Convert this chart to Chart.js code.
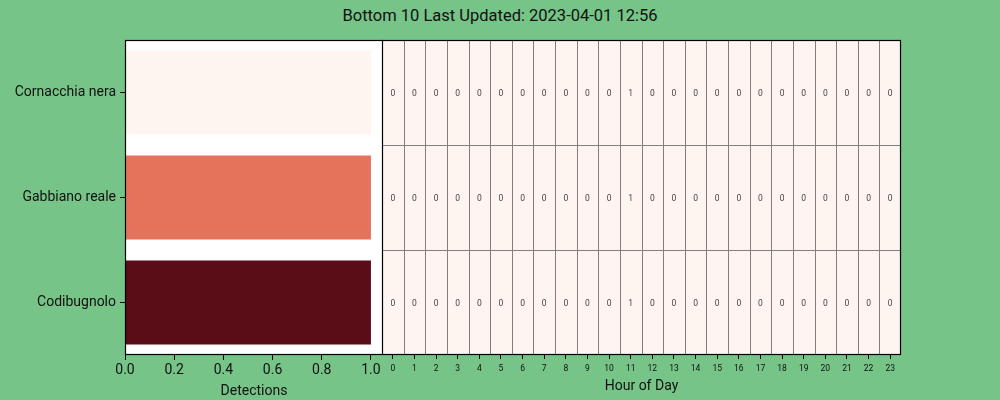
<!DOCTYPE html>
<html>
<head>
<meta charset="utf-8">
<script src="https://cdn.jsdelivr.net/npm/chart.js@4.4.0/dist/chart.umd.min.js"></script>
<style>
  html, body { margin:0; padding:0; background:#76c487; }
  #wrap { position:relative; width:1000px; height:400px; background:#76c487; overflow:hidden; }
  #title { position:absolute; left:0; top:6px; width:1000px; text-align:center; font-family:Roboto, sans-serif; font-size:16.5px; color:#111; }
  #c1 { position:absolute; left:0; top:0; }
  #c2 { position:absolute; left:382px; top:0; }
</style>
</head>
<body>
<div id="wrap">
  <div id="title">Bottom 10 Last Updated: 2023-04-01 12:56</div>
  <canvas id="c1" width="384" height="400" style="width:384px;height:400px"></canvas>
  <canvas id="c2" width="618" height="400" style="width:618px;height:400px"></canvas>
</div>
<script>
const species = ['Cornacchia nera', 'Gabbiano reale', 'Codibugnolo'];
const detections = [1, 1, 1];
const barColors = ['#fff5f0', '#e5735c', '#5a0c17'];
const hours = ['0','1','2','3','4','5','6','7','8','9','10','11','12','13','14','15','16','17','18','19','20','21','22','23'];
const countsCornacchia = [0,0,0,0,0,0,0,0,0,0,0,1,0,0,0,0,0,0,0,0,0,0,0,0];
const countsGabbiano   = [0,0,0,0,0,0,0,0,0,0,0,1,0,0,0,0,0,0,0,0,0,0,0,0];
const countsCodibugnolo= [0,0,0,0,0,0,0,0,0,0,0,1,0,0,0,0,0,0,0,0,0,0,0,0];
const xTicks1 = [0, 0.2, 0.4, 0.6, 0.8, 1.0];

const FONT = 'Roboto, sans-serif';

const boxPlugin = {
  id: 'box',
  beforeDraw(chart, args, opts) {
    const a = chart.chartArea, ctx = chart.ctx;
    ctx.save();
    ctx.fillStyle = opts.bg || '#ffffff';
    ctx.fillRect(a.left, a.top, a.right - a.left, a.bottom - a.top);
    ctx.restore();
  },
  afterDraw(chart) {
    const a = chart.chartArea, ctx = chart.ctx;
    ctx.save();
    ctx.strokeStyle = '#000';
    ctx.lineWidth = 1.2;
    ctx.strokeRect(a.left + 0.5, a.top + 0.5, a.right - a.left - 1, a.bottom - a.top - 1);
    ctx.restore();
  }
};

// Left chart: horizontal bars
new Chart(document.getElementById('c1'), {
  type: 'bar',
  data: {
    labels: species,
    datasets: [{ data: detections, backgroundColor: barColors, borderWidth: 0, barPercentage: 0.8, categoryPercentage: 1.0 }]
  },
  options: {
    indexAxis: 'y',
    responsive: false,
    animation: false,
    devicePixelRatio: 1,
    layout: { padding: { top: 40, right: 1, left: 0, bottom: 0 } },
    plugins: { legend: { display: false }, tooltip: { enabled: false }, box: { bg: '#ffffff' } },
    scales: {
      x: {
        type: 'linear', min: 0, max: 1.049,
        afterBuildTicks(s) { s.ticks = xTicks1.map(v => ({ value: v })); },
        afterFit(s) { s.height = 45; },
        grid: { drawOnChartArea: false, drawTicks: true, tickLength: 5, color: '#000', tickColor: '#000' },
        border: { display: false },
        ticks: { color: '#111', font: { family: FONT, size: 14 }, padding: 2, maxRotation: 0, callback: v => Number(v).toFixed(1) },
        title: { display: true, text: 'Detections', color: '#111', font: { family: FONT, size: 14 }, padding: { top: 0, bottom: 0 } }
      },
      y: {
        afterFit(s) { s.width = 125; },
        grid: { drawOnChartArea: false, drawTicks: true, tickLength: 5, color: '#000', tickColor: '#000', offset: false },
        border: { display: false },
        ticks: { color: '#111', font: { family: FONT, size: 14 }, padding: 4 }
      }
    }
  },
  plugins: [boxPlugin]
});

// Right chart: heatmap as stacked unit bars
const rowCounts = [countsCodibugnolo, countsGabbiano, countsCornacchia]; // bottom to top
const cellColor = '#fff5f0';
const heatDatasets = rowCounts.map((row, i) => ({
  label: 'row' + i,
  data: row.map(() => 1),
  counts: row,
  backgroundColor: cellColor,
  borderWidth: 0,
  barPercentage: 1.0,
  categoryPercentage: 1.0
}));

const heatPlugin = {
  id: 'heat',
  afterDatasetsDraw(chart) {
    const ctx = chart.ctx, a = chart.chartArea;
    const xs = chart.scales.x, ys = chart.scales.y;
    ctx.save();
    ctx.strokeStyle = '#808080';
    ctx.lineWidth = 1;
    for (let i = 1; i < hours.length; i++) {
      const px = Math.round((xs.getPixelForValue(i - 1) + xs.getPixelForValue(i)) / 2) + 0.5;
      ctx.beginPath(); ctx.moveTo(px, a.top); ctx.lineTo(px, a.bottom); ctx.stroke();
    }
    for (let r = 1; r < rowCounts.length; r++) {
      const py = Math.round(ys.getPixelForValue(r)) + 0.5;
      ctx.beginPath(); ctx.moveTo(a.left, py); ctx.lineTo(a.right, py); ctx.stroke();
    }
    ctx.fillStyle = '#444';
    ctx.font = '8.5px ' + FONT;
    ctx.textAlign = 'center';
    ctx.textBaseline = 'middle';
    rowCounts.forEach((row, r) => {
      const py = ys.getPixelForValue(r + 0.5) + 1;
      row.forEach((v, c) => {
        ctx.fillText(String(v), xs.getPixelForValue(c), py);
      });
    });
    ctx.restore();
  }
};

new Chart(document.getElementById('c2'), {
  type: 'bar',
  data: { labels: hours, datasets: heatDatasets },
  options: {
    responsive: false,
    animation: false,
    devicePixelRatio: 1,
    layout: { padding: { top: 40, right: 99, left: 0, bottom: 0 } },
    plugins: { legend: { display: false }, tooltip: { enabled: false }, box: { bg: cellColor } },
    scales: {
      x: {
        stacked: true,
        afterFit(s) { s.height = 45; },
        grid: { drawOnChartArea: false, drawTicks: true, tickLength: 4, color: '#000', tickColor: '#000', offset: false },
        border: { display: false },
        ticks: { color: '#111', font: { family: FONT, size: 8.5 }, padding: 5, maxRotation: 0, autoSkip: false },
        title: { display: true, text: 'Hour of Day', color: '#111', font: { family: FONT, size: 14 }, padding: { top: 0, bottom: 5 } }
      },
      y: {
        stacked: true, min: 0, max: 3, display: false
      }
    }
  },
  plugins: [boxPlugin, heatPlugin]
});
</script>
</body>
</html>
